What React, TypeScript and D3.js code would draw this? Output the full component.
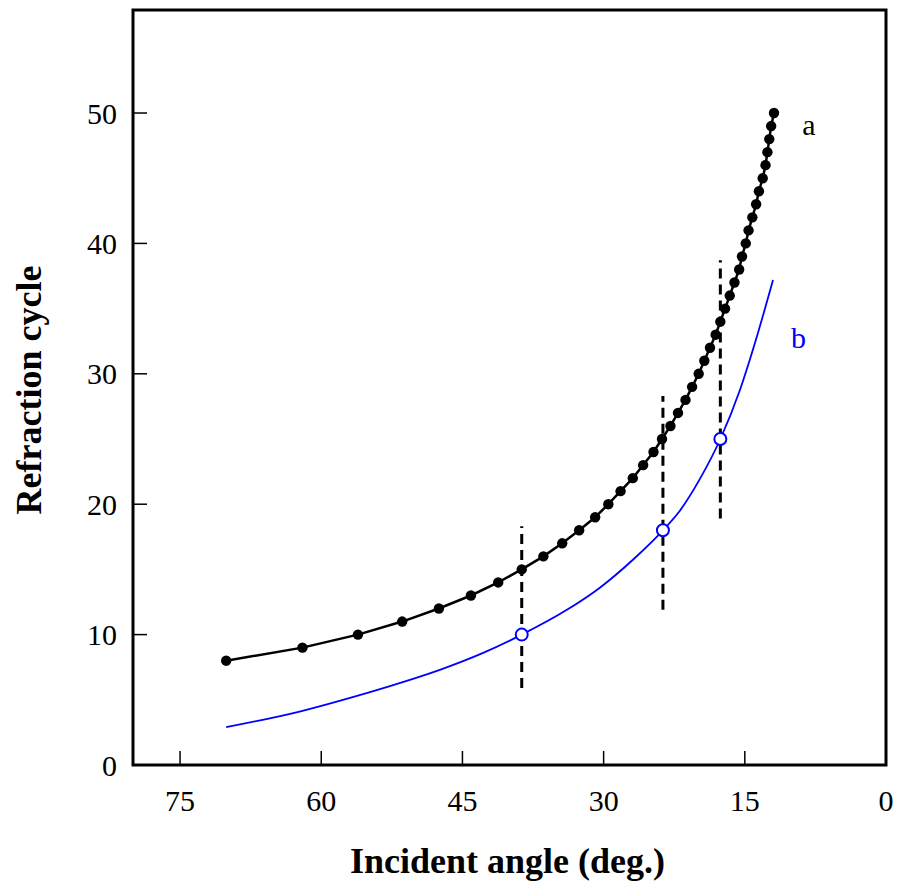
import * as d3 from "d3";

const W = 899;
const H = 883;
const MARGIN = { top: 10, right: 13, bottom: 118, left: 133 };

// series a: refraction cycle vs incident angle (dots)
const cyclesA = [
  8, 9, 10, 11, 12, 13, 14, 15, 16, 17, 18, 19, 20, 21, 22, 23, 24, 25, 26, 27, 28,
  29, 30, 31, 32, 33, 34, 35, 36, 37, 38, 39, 40, 41, 42, 43, 44, 45, 46, 47, 48, 49, 50,
];
const anglesA = [
  70.1, 62.0, 56.1, 51.4, 47.5, 44.1, 41.2, 38.7, 36.4, 34.4, 32.6, 30.9, 29.5, 28.2,
  26.9, 25.8, 24.7, 23.8, 22.9, 22.1, 21.3, 20.6, 19.9, 19.3, 18.7, 18.1, 17.6, 17.1,
  16.6, 16.1, 15.6, 15.3, 14.9, 14.6, 14.2, 13.8, 13.5, 13.1, 12.8, 12.6, 12.4, 12.2, 11.9,
];

// series b: smooth blue curve
const anglesB = [70.1, 62.3, 56.2, 51.6, 47.4, 42.8, 38.7, 33.9, 30.4, 26.8, 23.7, 21.9, 19.8, 17.6, 15.5, 13.7, 12.0];
const cyclesB = [2.9, 4.1, 5.3, 6.3, 7.3, 8.6, 10, 11.9, 13.6, 15.8, 18, 19.5, 21.9, 25, 28.8, 32.9, 37.2];

// open circles on b
const markAngles = [38.7, 23.7, 17.6];
const markCycles = [10, 18, 25];

// dashed guide lines [angle, from, to]
const guideAngles = [38.7, 23.7, 17.6];
const guideLow = [5.9, 11.9, 18.9];
const guideHigh = [18.3, 28.3, 38.7];

const xTicks = [75, 60, 45, 30, 15, 0];
const yTicks = [0, 10, 20, 30, 40, 50];

const FONT = "'Liberation Serif', 'Times New Roman', serif";

export default function App() {
  const boundsW = W - MARGIN.left - MARGIN.right;
  const boundsH = H - MARGIN.top - MARGIN.bottom;

  const x = d3.scaleLinear().domain([80, 0]).range([0, boundsW]);
  const y = d3.scaleLinear().domain([0, 57.9]).range([boundsH, 0]);

  const a = anglesA.map((ang, i) => ({ ang, v: cyclesA[i] }));
  const b = anglesB.map((ang, i) => ({ ang, v: cyclesB[i] }));

  const lineA = d3
    .line<{ ang: number; v: number }>()
    .x((d) => x(d.ang))
    .y((d) => y(d.v));
  const lineB = d3
    .line<{ ang: number; v: number }>()
    .x((d) => x(d.ang))
    .y((d) => y(d.v))
    .curve(d3.curveMonotoneX);

  return (
    <svg width={W} height={H} style={{ position: "absolute", left: 0, top: 0 }} fontFamily={FONT}>
      <g transform={`translate(${MARGIN.left},${MARGIN.top})`}>
        {/* ticks */}
        {xTicks.map((t) => (
          <g key={"x" + t}>
            {t !== 0 && (
              <line x1={x(t)} x2={x(t)} y1={boundsH} y2={boundsH - 14} stroke="#000" strokeWidth={1.5} />
            )}
            <text x={x(t)} y={boundsH + 46} textAnchor="middle" fontSize={30}>
              {t}
            </text>
          </g>
        ))}
        {yTicks.map((t) => (
          <g key={"y" + t}>
            {t !== 0 && <line x1={0} x2={14} y1={y(t)} y2={y(t)} stroke="#000" strokeWidth={1.5} />}
            <text x={-16} y={y(t)} dy="0.35em" textAnchor="end" fontSize={30}>
              {t}
            </text>
          </g>
        ))}

        {/* dashed guides */}
        {guideAngles.map((g, i) => (
          <line
            key={"g" + i}
            x1={x(g)}
            x2={x(g)}
            y1={y(guideLow[i])}
            y2={y(guideHigh[i])}
            stroke="#000"
            strokeWidth={3}
            strokeDasharray="10,6"
          />
        ))}

        {/* curve b */}
        <path d={lineB(b) || ""} fill="none" stroke="#0000ff" strokeWidth={1.8} />
        {markAngles.map((m, i) => (
          <circle key={"m" + i} cx={x(m)} cy={y(markCycles[i])} r={6} fill="#fff" stroke="#0000ff" strokeWidth={2} />
        ))}

        {/* curve a */}
        <path d={lineA(a) || ""} fill="none" stroke="#000" strokeWidth={2.5} />
        {a.map((d, i) => (
          <circle key={"a" + i} cx={x(d.ang)} cy={y(d.v)} r={5.2} fill="#000" />
        ))}

        <text x={x(8.2)} y={y(49.1)} dy="0.35em" fontSize={30} textAnchor="middle">
          a
        </text>
        <text x={x(9.3)} y={y(32.8)} dy="0.35em" fontSize={30} textAnchor="middle" fill="#0000ff">
          b
        </text>

        {/* frame */}
        <rect x={0} y={0} width={boundsW} height={boundsH} fill="none" stroke="#000" strokeWidth={3} />

        <text x={boundsW / 2 - 2} y={boundsH + 108} textAnchor="middle" fontSize={36} fontWeight="bold">
          Incident angle (deg.)
        </text>
        <text
          transform={`translate(${-92},${380}) rotate(-90)`}
          textAnchor="middle"
          fontSize={36}
          fontWeight="bold"
        >
          Refraction cycle
        </text>
      </g>
    </svg>
  );
}
